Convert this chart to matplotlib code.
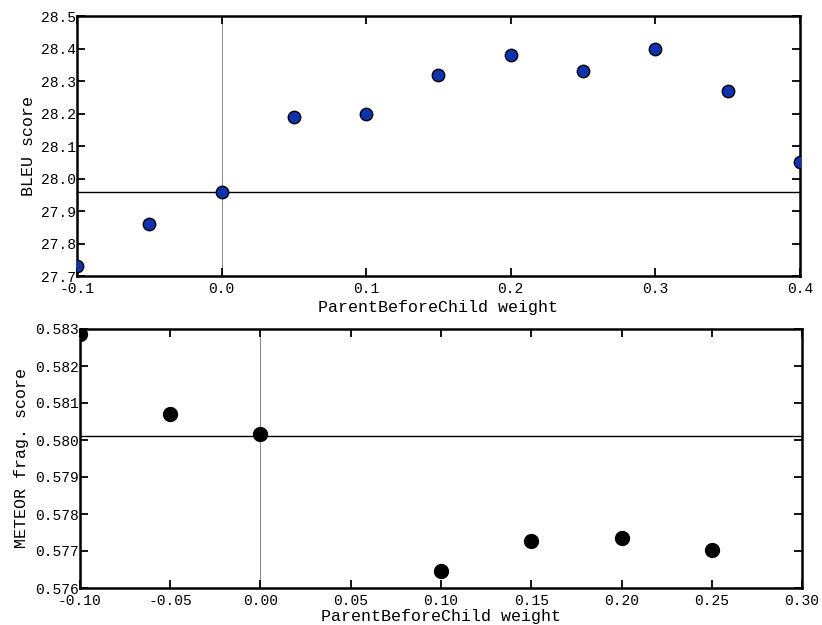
import matplotlib
matplotlib.use("Agg")
import matplotlib.pyplot as plt

# BLEU vs weight (top panel)
bleu_weights = [-0.1, -0.05, 0.0, 0.05, 0.1, 0.15, 0.2, 0.25, 0.3, 0.35, 0.4]
bleu_scores = [27.73, 27.86, 27.96, 28.19, 28.20, 28.32, 28.38, 28.33, 28.40, 28.27, 28.05]
bleu_baseline = 27.96

# METEOR fragmentation vs weight (bottom panel)
meteor_weights = [-0.10, -0.05, 0.00, 0.10, 0.15, 0.20, 0.25]
meteor_scores = [0.58287, 0.58070, 0.58015, 0.57646, 0.57727, 0.57735, 0.57703]
meteor_baseline = 0.58012

bleu_xticks = [-0.1, 0.0, 0.1, 0.2, 0.3, 0.4]
bleu_yticks = [27.7, 27.8, 27.9, 28.0, 28.1, 28.2, 28.3, 28.4, 28.5]
meteor_xticks = [-0.10, -0.05, 0.00, 0.05, 0.10, 0.15, 0.20, 0.25, 0.30]
meteor_yticks = [0.576, 0.577, 0.578, 0.579, 0.580, 0.581, 0.582, 0.583]

plt.rcParams['font.family'] = ['Liberation Mono', 'DejaVu Sans Mono']
plt.rcParams['font.size'] = 10

fig = plt.figure(figsize=(8.22, 6.25), dpi=100)
ax1 = fig.add_axes([0.0937, 0.5584, 0.8793, 0.4156])
ax2 = fig.add_axes([0.0973, 0.0592, 0.8784, 0.4144])


def style(ax):
    for s in ax.spines.values():
        s.set_linewidth(1.8)
    ax.tick_params(direction='in', top=True, right=True, length=6, width=1.3,
                   labelsize=10.5)
    ax.tick_params(axis='y', pad=1)
    ax.tick_params(axis='x', pad=4)


# top panel
ax1.axvline(0.0, color='#888888', lw=0.7, zorder=1)
ax1.axhline(bleu_baseline, color='black', lw=1.0, zorder=1)
ax1.scatter(bleu_weights, bleu_scores, s=80, color='#0f32ae',
            edgecolors='black', linewidths=1.0, zorder=3)
ax1.set_xlim(-0.1, 0.4)
ax1.set_ylim(27.7, 28.5)
ax1.set_xticks(bleu_xticks)
ax1.set_xticklabels([f"{t:.1f}" for t in bleu_xticks])
ax1.set_yticks(bleu_yticks)
ax1.set_yticklabels([f"{t:.1f}" for t in bleu_yticks])
ax1.set_xlabel("ParentBeforeChild weight", fontsize=12, labelpad=3)
ax1.set_ylabel("BLEU score", fontsize=12, labelpad=3)
style(ax1)

# bottom panel
ax2.axvline(0.0, color='#888888', lw=0.7, zorder=1)
ax2.axhline(meteor_baseline, color='black', lw=1.0, zorder=1)
ax2.scatter(meteor_weights, meteor_scores, s=100, color='black',
            edgecolors='black', zorder=3)
ax2.set_xlim(-0.10, 0.30)
ax2.set_ylim(0.576, 0.583)
ax2.set_xticks(meteor_xticks)
ax2.set_xticklabels([f"{t:.2f}" for t in meteor_xticks])
ax2.set_yticks(meteor_yticks)
ax2.set_yticklabels([f"{t:.3f}" for t in meteor_yticks])
ax2.set_xlabel("ParentBeforeChild weight", fontsize=12, labelpad=1)
ax2.set_ylabel("METEOR frag. score", fontsize=12, labelpad=4)
style(ax2)

fig.savefig("out.png", dpi=100)
